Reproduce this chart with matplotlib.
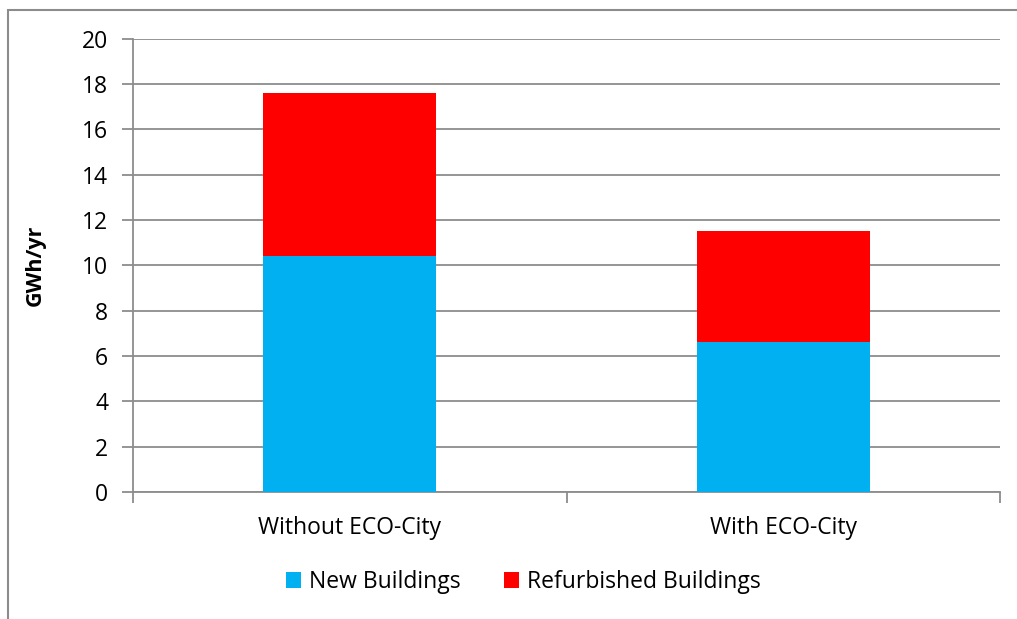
import matplotlib
matplotlib.use("Agg")
import matplotlib.pyplot as plt
from matplotlib.patches import Rectangle

categories = ["Without ECO-City", "With ECO-City"]
new_buildings = [10.4, 6.6]
refurbished = [7.2, 4.9]
series_names = ["New Buildings", "Refurbished Buildings"]
colors = ["#00B0F0", "#FF0000"]
yticks = [0, 2, 4, 6, 8, 10, 12, 14, 16, 18, 20]

plt.rcParams['font.family'] = ['Open Sans', 'DejaVu Sans']
fig = plt.figure(figsize=(10.17, 6.19), dpi=100)
W, H = 1017, 619
ax = fig.add_axes([133 / W, (H - 492) / H, (1000 - 133) / W, (492 - 38.5) / H])

grid_c = "#8C8C8C"
fs = 16.5
x = list(range(len(categories)))
ax.bar(x, new_buildings, width=0.4, color=colors[0], label=series_names[0], zorder=3)
ax.bar(x, refurbished, width=0.4, bottom=new_buildings, color=colors[1], label=series_names[1], zorder=3)

ax.set_xlim(-0.5, len(categories) - 0.5)
ax.set_ylim(0, 20)
ax.set_yticks(yticks)
ax.set_yticklabels([str(v) for v in yticks], fontsize=fs)
ax.yaxis.grid(True, color=grid_c, linewidth=1.3, zorder=0)
ax.set_axisbelow(True)

ax.set_xticks([-0.5 + i for i in range(len(categories) + 1)])
ax.set_xticklabels([""] * (len(categories) + 1))
ax.set_xticks(x, minor=True)
ax.set_xticklabels(categories, minor=True, fontsize=fs)
ax.tick_params(axis='x', which='minor', length=0, pad=17)
ax.tick_params(axis='x', which='major', length=8, width=1.3, color=grid_c)
ax.tick_params(axis='y', length=8, width=1.3, color=grid_c, pad=10)

for s in ["top", "right"]:
    ax.spines[s].set_visible(False)
for s in ["left", "bottom"]:
    ax.spines[s].set_color(grid_c)
    ax.spines[s].set_linewidth(1.3)

ax.set_ylabel("GWh/yr", fontsize=15.5, fontweight='bold', labelpad=26)

leg = fig.legend(loc='center', bbox_to_anchor=(523 / W, (H - 582) / H), ncol=2, frameon=False,
                 fontsize=fs, handlelength=0.65, handleheight=0.65, handletextpad=0.35,
                 columnspacing=1.9)

fig.patches.append(Rectangle((8 / W, -0.1), 1.2, (H - 10) / H + 0.1, transform=fig.transFigure,
                             fill=False, edgecolor=grid_c, linewidth=1.5, figure=fig))

fig.savefig("out.png", dpi=100)
